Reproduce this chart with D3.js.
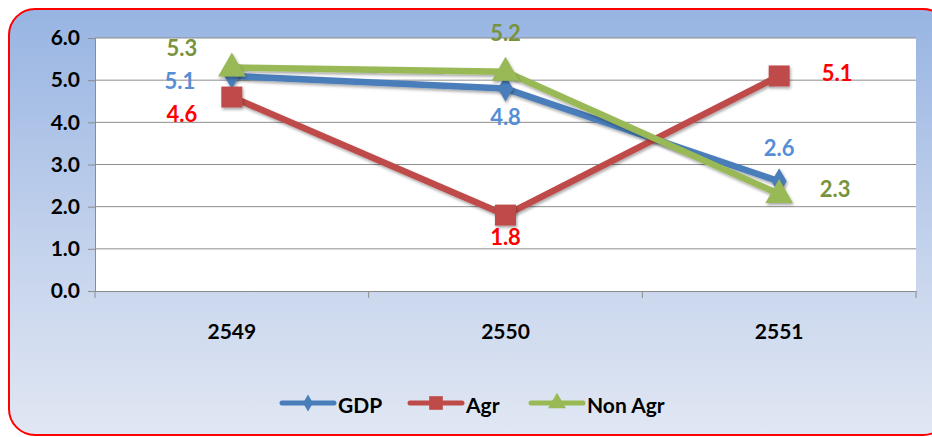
<!DOCTYPE html>
<html><head><meta charset="utf-8">
<script src="https://cdn.jsdelivr.net/npm/d3@7"></script>
<style>html,body{margin:0;padding:0;background:#fff;}svg{display:block;}</style>
</head><body>
<svg id="chart" width="932" height="437"></svg>
<script>
const categories = ["2549", "2550", "2551"];
const gdp = [5.1, 4.8, 2.6];
const agr = [4.6, 1.8, 5.1];
const nonAgr = [5.3, 5.2, 2.3];
const yTicks = [0, 1, 2, 3, 4, 5, 6];
const seriesNames = ["GDP", "Agr", "Non Agr"];

const series = [
  {name: seriesNames[0], values: gdp, color: "#4a7ebb", label: "#558ed5", marker: "diamond",
   off: [[-52, 5], [0, 28], [0, -34]]},
  {name: seriesNames[1], values: agr, color: "#be4b48", label: "#ff0000", marker: "square",
   off: [[-50, 16], [0, 21], [58, -3]]},
  {name: seriesNames[2], values: nonAgr, color: "#98b954", label: "#77933c", marker: "triangle",
   off: [[-50, -20], [0, -39], [56, -6]]}
];

const FONT = "Lato, 'Open Sans', sans-serif";
const svg = d3.select("#chart");
const defs = svg.append("defs");
const bg = defs.append("linearGradient").attr("id", "bg").attr("x1", 0).attr("y1", 0).attr("x2", 0).attr("y2", 1);
bg.append("stop").attr("offset", "0%").attr("stop-color", "#97b4e2");
bg.append("stop").attr("offset", "55%").attr("stop-color", "#c3d2ec");
bg.append("stop").attr("offset", "100%").attr("stop-color", "#e1e7f3");
const sh = defs.append("filter").attr("id", "sh").attr("x", "-50%").attr("y", "-50%").attr("width", "200%").attr("height", "200%");
sh.append("feDropShadow").attr("dx", 1).attr("dy", 2).attr("stdDeviation", 1.5).attr("flood-color", "#000").attr("flood-opacity", 0.35);

svg.append("rect").attr("x", 9).attr("y", 9).attr("width", 940).attr("height", 426)
  .attr("rx", 26).attr("ry", 26).attr("fill", "url(#bg)").attr("stroke", "#ff0000").attr("stroke-width", 2);

const m = {left: 95, right: 916, top: 38, bottom: 291};
const x = d3.scalePoint().domain(categories).range([m.left, m.right]).padding(0.5);
const xb = d3.scaleBand().domain(categories).range([m.left, m.right]);
const y = d3.scaleLinear().domain([0, 6]).range([m.bottom, m.top]);

svg.append("rect").attr("x", m.left).attr("y", m.top).attr("width", m.right - m.left).attr("height", m.bottom - m.top).attr("fill", "#fff");

svg.append("g").selectAll("line").data(yTicks.filter(d => d > 0)).join("line")
  .attr("x1", m.left).attr("x2", m.right).attr("y1", d => y(d)).attr("y2", d => y(d))
  .attr("stroke", "#8c8c8c").attr("stroke-width", 1);

const yAxis = svg.append("g").attr("transform", `translate(${m.left},0)`)
  .call(d3.axisLeft(y).tickValues(yTicks).tickFormat(d3.format(".1f")).tickSize(7).tickPadding(8));
yAxis.select(".domain").attr("stroke", "#8c8c8c");
yAxis.selectAll(".tick line").attr("stroke", "#8c8c8c");
yAxis.selectAll("text").attr("font-family", FONT).attr("font-weight", "bold")
  .attr("font-size", 21).attr("fill", "#000");

const xAxis = svg.append("g").attr("transform", `translate(0,${m.bottom})`)
  .call(d3.axisBottom(xb).tickSize(0).tickPadding(33));
xAxis.select(".domain").attr("stroke", "#8c8c8c");
xAxis.selectAll("text").attr("font-family", FONT).attr("font-weight", "bold")
  .attr("font-size", 21).attr("fill", "#000");
const bounds = categories.map(c => xb(c)).concat([m.right]);
xAxis.append("g").selectAll("line").data(bounds).join("line")
  .attr("x1", d => d).attr("x2", d => d).attr("y1", 0).attr("y2", 7).attr("stroke", "#8c8c8c");

function markerPath(type, s) {
  const t = type === "diamond" ? d3.symbolDiamond : type === "square" ? d3.symbolSquare : d3.symbolTriangle;
  const size = type === "diamond" ? 200 : type === "square" ? 440 : 330;
  return d3.symbol().type(t).size(size * s * s)();
}

const line = d3.line().x((d, i) => x(categories[i])).y(d => y(d));
series.forEach(s => {
  svg.append("path").datum(s.values).attr("d", line).attr("fill", "none")
    .attr("stroke", s.color).attr("stroke-width", 6.5).attr("stroke-linejoin", "round").attr("filter", "url(#sh)");
});
series.forEach(s => {
  svg.append("g").selectAll("path").data(s.values).join("path")
    .attr("transform", (d, i) => `translate(${x(categories[i])},${y(d) + (s.marker === "triangle" ? 1 : 0)})`)
    .attr("d", markerPath(s.marker, 1)).attr("fill", s.color).attr("filter", "url(#sh)");
});
series.forEach(s => {
  svg.append("g").selectAll("text").data(s.values).join("text")
    .attr("x", (d, i) => x(categories[i]) + s.off[i][0])
    .attr("y", (d, i) => y(d) + s.off[i][1])
    .attr("text-anchor", "middle").attr("dominant-baseline", "central")
    .attr("font-family", FONT).attr("font-size", 22).attr("font-weight", "bold")
    .attr("fill", s.label).text(d => d3.format(".1f")(d));
});

const lx = [282, 410, 531];
const leg = svg.append("g");
series.forEach((s, i) => {
  const g = leg.append("g").attr("transform", `translate(${lx[i]},403)`);
  g.append("line").attr("x1", 0).attr("x2", 52).attr("stroke", s.color).attr("stroke-width", 5).attr("stroke-linecap", "round");
  g.append("path").attr("transform", "translate(26,0)").attr("d", markerPath(s.marker, 0.65)).attr("fill", s.color);
  g.append("text").attr("x", 56).attr("y", 1).attr("dominant-baseline", "central")
    .attr("font-family", FONT).attr("font-size", 21).attr("font-weight", "bold")
    .attr("fill", "#000").text(s.name);
});
</script>
</body></html>
